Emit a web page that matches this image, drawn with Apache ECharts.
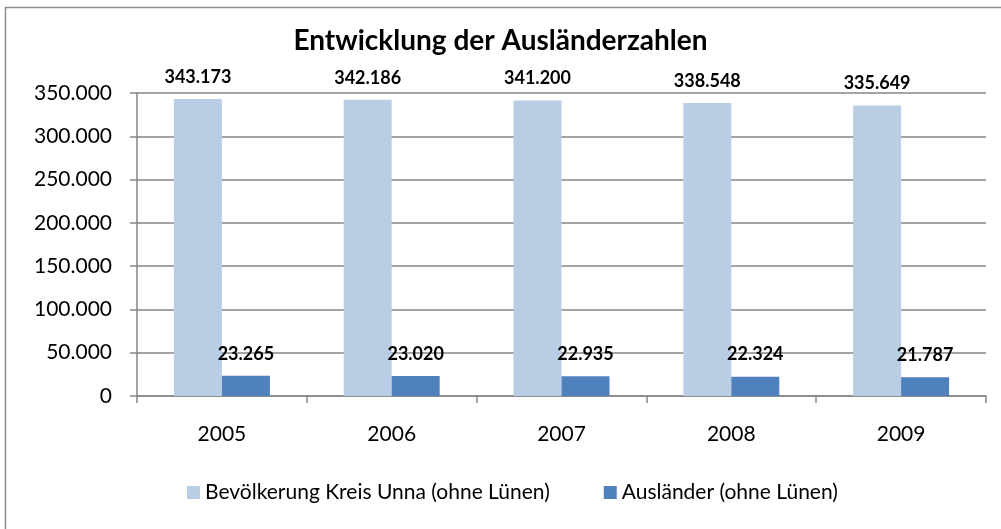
<!DOCTYPE html>
<html>
<head>
<meta charset="utf-8">
<script src="https://cdn.jsdelivr.net/npm/echarts@6/dist/echarts.min.js"></script>
<style>
html,body{margin:0;padding:0;background:#fff;}
#c{width:1001px;height:529px;}
</style>
</head>
<body>
<div id="c"></div>
<script>
var categories = ['2005', '2006', '2007', '2008', '2009'];
var bevoelkerung = [343173, 342186, 341200, 338548, 335649];
var auslaender = [23265, 23020, 22935, 22324, 21787];
var seriesNames = ['Bevölkerung Kreis Unna (ohne Lünen)', 'Ausländer (ohne Lünen)'];
var titleText = 'Entwicklung der Ausländerzahlen';

function fmt(v) {
  return String(v).replace(/\B(?=(\d{3})+(?!\d))/g, '.');
}

var chart = echarts.init(document.getElementById('c'));
var font = 'Lato';
var labelStyle = {
  show: true,
  position: 'top',
  distance: 13,
  fontFamily: font,
  fontWeight: 'bold',
  fontSize: 18,
  color: '#000',
  formatter: function (p) { return fmt(p.value); }
};
chart.setOption({
  animation: false,
  backgroundColor: '#fff',
  graphic: [{
    type: 'rect',
    shape: { x: 5.5, y: 7.5, width: 1100, height: 600 },
    style: { fill: 'none', stroke: '#8c8c8c', lineWidth: 1.5 },
    silent: true
  }],
  title: {
    text: titleText,
    left: 'center',
    top: 22,
    textStyle: { fontFamily: font, fontWeight: 'bold', fontSize: 28, color: '#000' }
  },
  legend: {
    bottom: 21,
    left: 182,
    itemWidth: 13,
    itemHeight: 13,
    itemGap: 54,
    icon: 'rect',
    textStyle: { fontFamily: font, fontSize: 21, color: '#000' },
    data: seriesNames
  },
  grid: { left: 137, right: 15, top: 93, bottom: 133, containLabel: false },
  xAxis: {
    type: 'category',
    data: categories,
    axisLine: { lineStyle: { color: '#868686', width: 1.5 } },
    axisTick: { show: true, length: 7, lineStyle: { color: '#868686', width: 1.5 } },
    axisLabel: { fontFamily: font, fontSize: 21, color: '#000', margin: 28 }
  },
  yAxis: {
    type: 'value',
    min: 0,
    max: 350000,
    interval: 50000,
    axisLine: { show: true, lineStyle: { color: '#868686', width: 1.5 } },
    axisTick: { show: true, length: 7, lineStyle: { color: '#868686', width: 1.5 } },
    splitLine: { lineStyle: { color: '#868686', width: 1.5 } },
    axisLabel: { fontFamily: font, fontSize: 21, color: '#000', margin: 25, formatter: fmt }
  },
  series: [
    {
      name: seriesNames[0],
      type: 'bar',
      data: bevoelkerung,
      barWidth: 48,
      barGap: '0%',
      itemStyle: { color: '#B9CDE5' },
      label: labelStyle
    },
    {
      name: seriesNames[1],
      type: 'bar',
      data: auslaender,
      barWidth: 48,
      barGap: '0%',
      itemStyle: { color: '#4F81BD' },
      label: labelStyle
    }
  ]
});
</script>
</body>
</html>
